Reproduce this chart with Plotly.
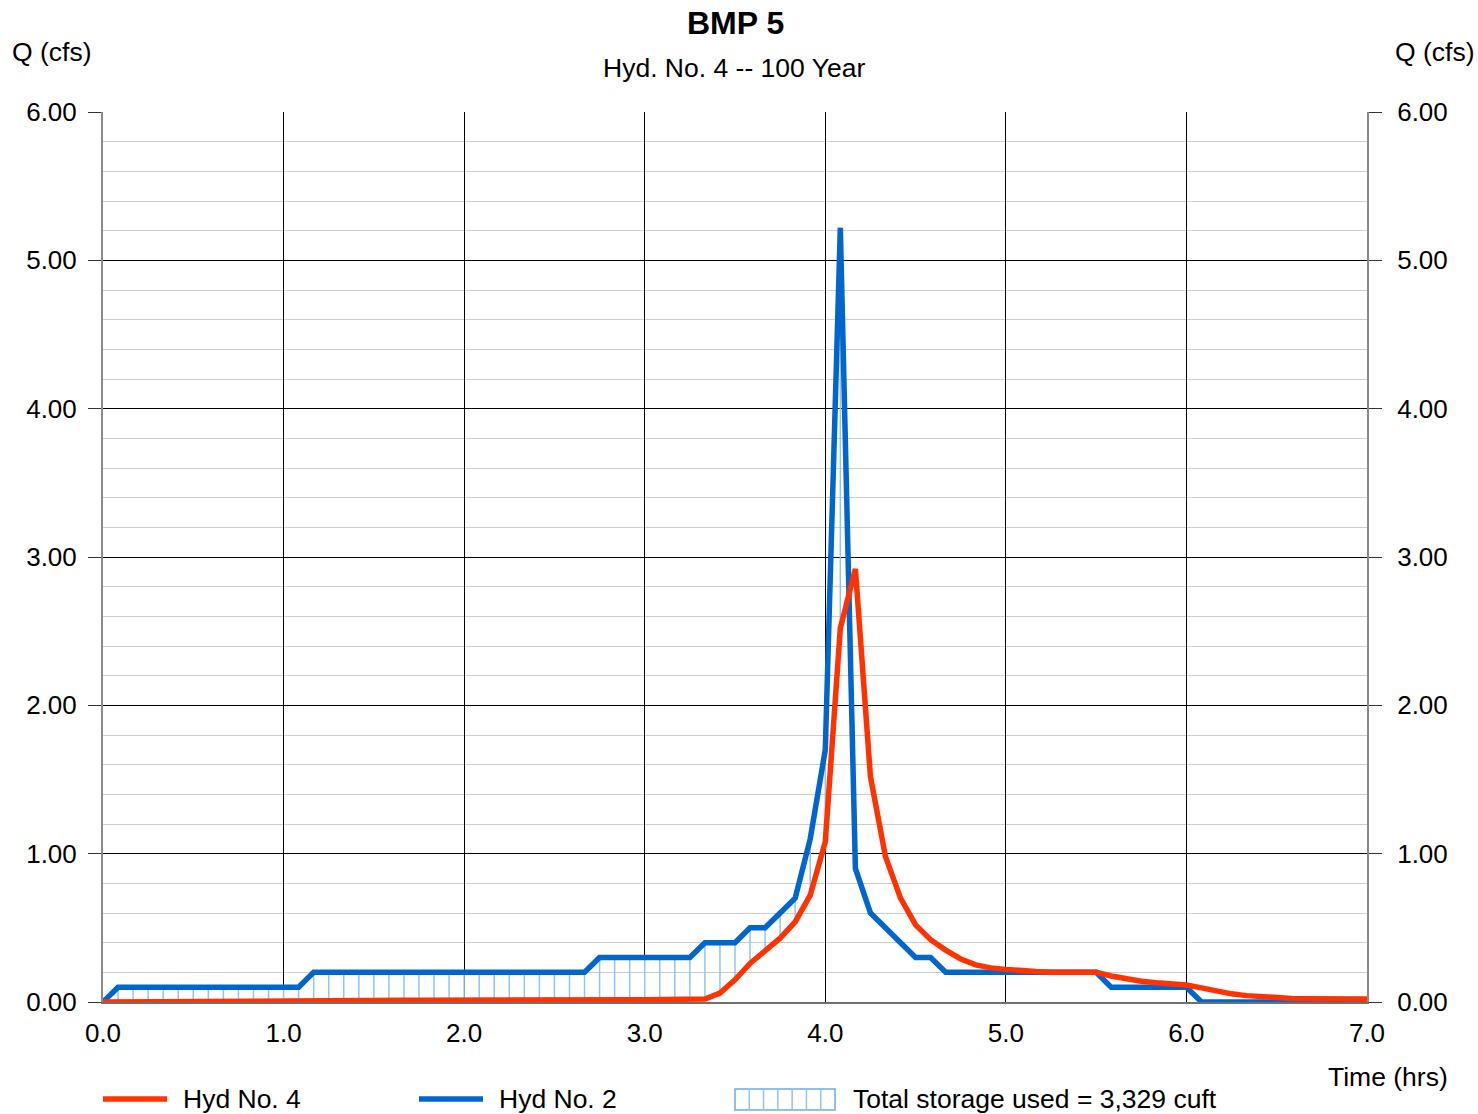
import plotly.graph_objects as go

# ---------------- data ----------------
time_hrs = [
    0.0, 0.0833, 0.1667, 0.25, 0.3333, 0.4167, 0.5, 0.5833, 0.6667, 0.75, 0.8333, 0.9167,
    1.0, 1.0833, 1.1667, 1.25, 1.3333, 1.4167, 1.5, 1.5833, 1.6667, 1.75, 1.8333, 1.9167,
    2.0, 2.0833, 2.1667, 2.25, 2.3333, 2.4167, 2.5, 2.5833, 2.6667, 2.75, 2.8333, 2.9167,
    3.0, 3.0833, 3.1667, 3.25, 3.3333, 3.4167, 3.5, 3.5833, 3.6667, 3.75, 3.8333, 3.9167,
    4.0, 4.0833, 4.1667, 4.25, 4.3333, 4.4167, 4.5, 4.5833, 4.6667, 4.75, 4.8333, 4.9167,
    5.0, 5.0833, 5.1667, 5.25, 5.3333, 5.4167, 5.5, 5.5833, 5.6667, 5.75, 5.8333, 5.9167,
    6.0, 6.0833, 6.1667, 6.25, 6.3333, 6.4167, 6.5, 6.5833, 6.6667, 6.75, 6.8333, 6.9167,
    7.0,
]

# Hyd No. 2 (inflow)
hyd2_q = [
    0.0, 0.1, 0.1, 0.1, 0.1, 0.1, 0.1, 0.1, 0.1, 0.1, 0.1, 0.1,
    0.1, 0.1, 0.2, 0.2, 0.2, 0.2, 0.2, 0.2, 0.2, 0.2, 0.2, 0.2,
    0.2, 0.2, 0.2, 0.2, 0.2, 0.2, 0.2, 0.2, 0.2, 0.3, 0.3, 0.3,
    0.3, 0.3, 0.3, 0.3, 0.4, 0.4, 0.4, 0.5, 0.5, 0.6, 0.7, 1.1,
    1.7, 5.22, 0.9, 0.6, 0.5, 0.4, 0.3, 0.3, 0.2, 0.2, 0.2, 0.2,
    0.2, 0.2, 0.2, 0.2, 0.2, 0.2, 0.2, 0.1, 0.1, 0.1, 0.1, 0.1,
    0.1, 0.0, 0.0, 0.0, 0.0, 0.0, 0.0, 0.0, 0.0, 0.0, 0.0, 0.0,
    0.0,
]

# Hyd No. 4 (outflow)
hyd4_q = [
    0.000, 0.001, 0.002, 0.003, 0.003, 0.004, 0.004, 0.005, 0.005, 0.006, 0.006, 0.007,
    0.007, 0.008, 0.008, 0.009, 0.009, 0.010, 0.010, 0.010, 0.011, 0.011, 0.012, 0.012,
    0.012, 0.013, 0.013, 0.013, 0.014, 0.014, 0.014, 0.015, 0.015, 0.015, 0.016, 0.016,
    0.016, 0.017, 0.017, 0.018, 0.020, 0.06, 0.15, 0.26, 0.35, 0.43, 0.54, 0.72,
    1.08, 2.52, 2.92, 1.52, 0.98, 0.70, 0.52, 0.42, 0.35, 0.29, 0.25, 0.23,
    0.22, 0.21, 0.205, 0.20, 0.20, 0.20, 0.20, 0.175, 0.155, 0.14, 0.13, 0.12,
    0.115, 0.095, 0.072, 0.055, 0.043, 0.034, 0.028, 0.024, 0.022, 0.021, 0.02, 0.02,
    0.02,
]

y_tick_vals = [0, 1, 2, 3, 4, 5, 6]
y_tick_text = ["0.00", "1.00", "2.00", "3.00", "4.00", "5.00", "6.00"]
x_tick_vals = [0, 1, 2, 3, 4, 5, 6, 7]
x_tick_text = ["0.0", "1.0", "2.0", "3.0", "4.0", "5.0", "6.0", "7.0"]

title_text = "BMP 5"
subtitle_text = "Hyd. No. 4 -- 100 Year"
legend_labels = ["Hyd No. 4", "Hyd No. 2", "Total storage used = 3,329 cuft"]

# ---------------- style ----------------
FONT = "Liberation Sans, Arial, Helvetica, sans-serif"
RED = "#ff3300"
BLUE = "#0066cc"
HATCH = "#8fc4ee"
W, H = 1478, 1114
PL, PR, PT, PB = 103, 1367, 112, 1002   # plot area in page pixels
L, R = PL, W - PR
T, B = PT, H - PB
PW, PH = W - L - R, H - T - B


def px(xp):
    return (xp - L) / PW


def py(yp):
    return (H - B - yp) / PH


# hatching between the curves where inflow exceeds outflow
hx, hy = [], []
for t, qi, qo in zip(time_hrs, hyd2_q, hyd4_q):
    if qi > qo:
        hx += [t, t, None]
        hy += [qo, qi, None]

fig = go.Figure()
fig.add_trace(go.Scatter(x=hx, y=hy, mode="lines", line=dict(color=HATCH, width=1.5),
                         showlegend=False, hoverinfo="skip", cliponaxis=False))
fig.add_trace(go.Scatter(x=time_hrs, y=hyd2_q, mode="lines", name=legend_labels[1],
                         line=dict(color=BLUE, width=5.5), showlegend=False, cliponaxis=False))
fig.add_trace(go.Scatter(x=time_hrs, y=hyd4_q, mode="lines", name=legend_labels[0],
                         line=dict(color=RED, width=5.5), showlegend=False, cliponaxis=False))
# invisible trace on right axis so it renders
fig.add_trace(go.Scatter(x=[time_hrs[0]], y=[hyd2_q[0]], yaxis="y2", mode="lines",
                         line=dict(width=0), showlegend=False, hoverinfo="skip"))

fig.update_layout(
    width=W, height=H,
    margin=dict(l=L, r=R, t=T, b=B, pad=0),
    paper_bgcolor="white", plot_bgcolor="white",
    font=dict(family=FONT, size=26, color="black"),
    showlegend=False,
    xaxis=dict(
        range=[0, 7], tickvals=x_tick_vals, ticktext=x_tick_text,
        showgrid=True, gridcolor="black", gridwidth=1, zeroline=False,
        showline=True, linecolor="#707070", linewidth=2,
        ticks="", ticklabelstandoff=7,
        tickfont=dict(size=26, family=FONT),
    ),
    yaxis=dict(
        range=[0, 6], tickvals=y_tick_vals, ticktext=y_tick_text,
        showgrid=True, gridcolor="black", gridwidth=1, zeroline=False,
        showline=True, linecolor="#8a8a8a", linewidth=2,
        ticks="outside", ticklen=13, tickcolor="#333333", tickwidth=1,
        ticklabelstandoff=6,
        tickfont=dict(size=26, family=FONT),
        minor=dict(dtick=0.2, tick0=0, showgrid=True, gridcolor="#cccccc", gridwidth=1, ticks=""),
    ),
    yaxis2=dict(
        range=[0, 6], tickvals=y_tick_vals, ticktext=y_tick_text,
        overlaying="y", side="right", showgrid=False, zeroline=False,
        showline=True, linecolor="#8a8a8a", linewidth=2,
        ticks="outside", ticklen=13, tickcolor="#333333", tickwidth=1,
        ticklabelstandoff=10,
        tickfont=dict(size=26, family=FONT),
    ),
)

TXT = 26.5
annotations = [
    dict(text="<b>" + title_text + "</b>", x=px(735), y=py(23), font=dict(size=32)),
    dict(text=subtitle_text, x=px(734), y=py(68), font=dict(size=TXT)),
    dict(text="Q (cfs)", x=px(10), y=py(52), xanchor="left", font=dict(size=TXT)),
    dict(text="Q (cfs)", x=px(1477), y=py(52), xanchor="right", font=dict(size=TXT)),
    dict(text="Time (hrs)", x=px(1450), y=py(1077), xanchor="right", font=dict(size=TXT)),
    dict(text=legend_labels[0], x=px(181), y=py(1099), xanchor="left", font=dict(size=TXT)),
    dict(text=legend_labels[1], x=px(497), y=py(1099), xanchor="left", font=dict(size=TXT)),
    dict(text=legend_labels[2], x=px(851), y=py(1099), xanchor="left", font=dict(size=TXT)),
]
for a in annotations:
    a.setdefault("xanchor", "center")
    a.update(xref="paper", yref="paper", yanchor="middle", showarrow=False)
    a["font"] = dict(family=FONT, color="black", size=a["font"]["size"])
fig.update_layout(annotations=annotations)

shapes = [
    dict(type="line", x0=px(103), x1=px(167), y0=py(1099), y1=py(1099),
         line=dict(color=RED, width=5.5)),
    dict(type="line", x0=px(419), x1=px(483), y0=py(1099), y1=py(1099),
         line=dict(color=BLUE, width=5.5)),
    dict(type="rect", x0=px(735), x1=px(835), y0=py(1110), y1=py(1089),
         line=dict(color="#6aaee6", width=1.5), fillcolor="rgba(0,0,0,0)"),
]
for k in range(1, 7):
    xx = 735 + k * 100 / 7
    shapes.append(dict(type="line", x0=px(xx), x1=px(xx), y0=py(1110), y1=py(1089),
                       line=dict(color=HATCH, width=1.5)))
for s in shapes:
    s.update(xref="paper", yref="paper")
fig.update_layout(shapes=shapes)

fig.write_html(
    "out.html",
    config={"displayModeBar": False},
    post_script="document.body.style.margin='0px';document.body.style.overflow='hidden';",
)
